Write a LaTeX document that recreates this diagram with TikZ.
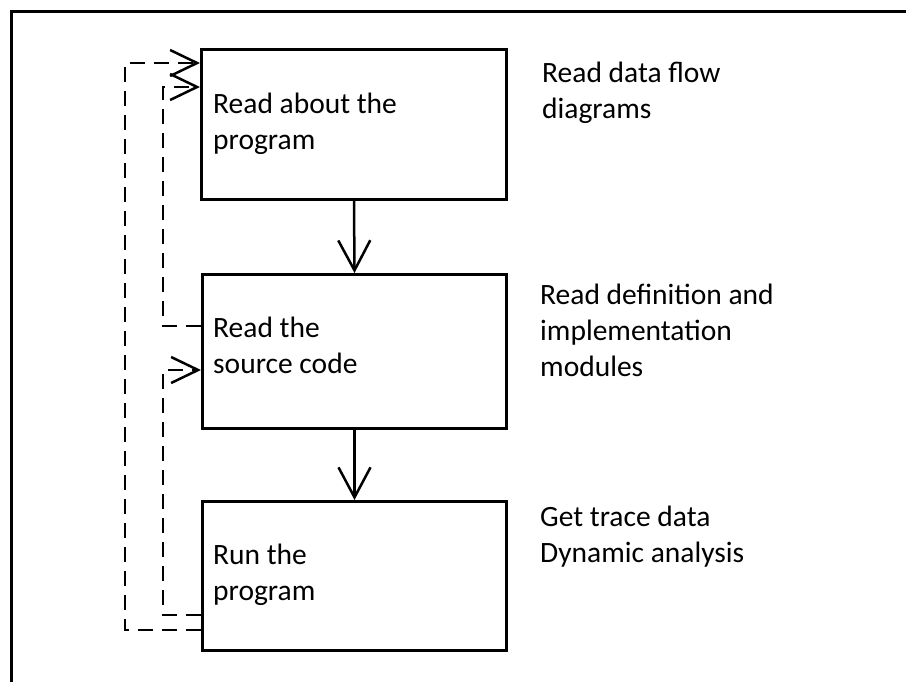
\documentclass[tikz,border=0pt]{standalone}
\usepackage{fontspec}
\setmainfont{Carlito}
\usetikzlibrary{arrows.meta}
\begin{document}
\begin{tikzpicture}[x=1pt,y=-1pt,
  box/.style={draw,line width=3pt,inner sep=0pt,anchor=north west},
  lbl/.style={anchor=base west,inner sep=0pt,font=\fontsize{29.5}{36}\selectfont},
  down/.style={line width=2.5pt,-{Straight Barb[length=30pt,width=32pt]}},
  loopline/.style={line width=2.5pt,dash pattern=on 15pt off 9pt,-{Straight Barb[length=27pt,width=26pt]}}]
\useasboundingbox (0,0) rectangle (906,681);
\fill[white] (0,0) rectangle (906,681);
\draw[line width=3pt] (11,690) -- (11,11) -- (915,11);
\node[box,minimum width=305pt,minimum height=150pt] (b1) at (200,48) {};
\node[box,minimum width=304pt,minimum height=154pt] (b2) at (201,273) {};
\node[box,minimum width=304pt,minimum height=149pt] (b3) at (201,500) {};
\draw[down] (b1.south) -- (b2.north);
\draw[down] (b2.south) -- (b3.north);
\draw[loopline] ([yshift=22pt]b3.south west) -- ++(-76pt,0) |- ([yshift=-15pt]b1.north west);
\draw[loopline] ([yshift=-53pt]b2.north west) -- ++(-38pt,0) |- ([yshift=-39pt]b1.north west);
\draw[loopline] ([yshift=37pt]b3.south west) -- ++(-38pt,0) |- ([yshift=-97pt]b2.north west);
% box texts
\node[lbl] (t1a) at (213,113) {Read about the};
\node[lbl] (t1b) at (213,149) {program};
\node[lbl] (t2a) at (213,337) {Read the};
\node[lbl] (t2b) at (213,373) {source code};
\node[lbl] (t3a) at (213,564) {Run the};
\node[lbl] (t3b) at (213,600) {program};
% side texts
\node[lbl] (s1a) at (542,82) {Read data flow};
\node[lbl] (s1b) at (542,118) {diagrams};
\node[lbl] (s2a) at (540,304) {Read definition and};
\node[lbl] (s2b) at (540,340) {implementation};
\node[lbl] (s2c) at (540,376) {modules};
\node[lbl] (s3a) at (540,526) {Get trace data};
\node[lbl] (s3b) at (540,562) {Dynamic analysis};
\end{tikzpicture}
\end{document}
